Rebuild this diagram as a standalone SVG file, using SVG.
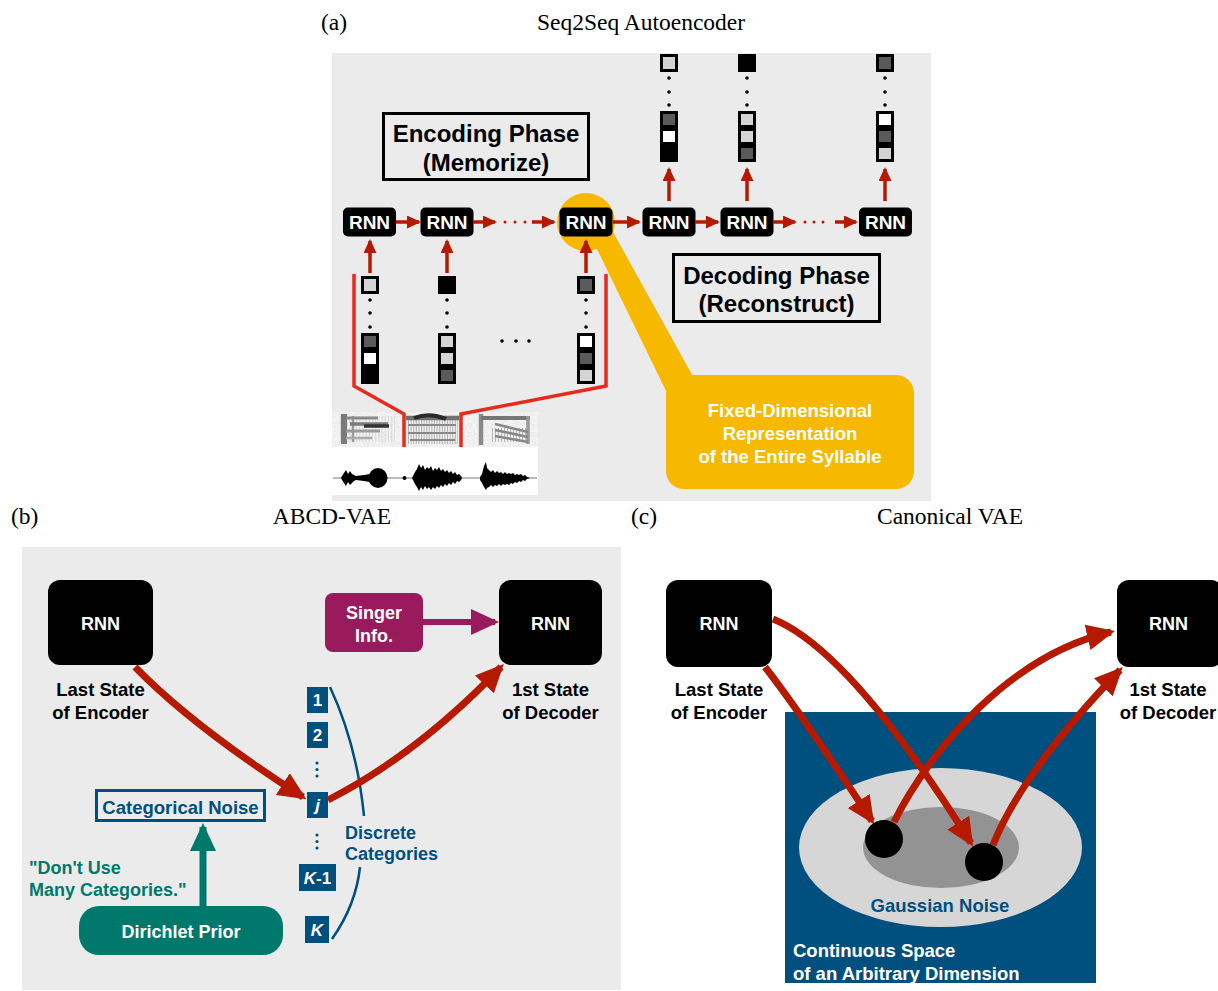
<svg xmlns="http://www.w3.org/2000/svg" width="1218" height="991" viewBox="0 0 1218 991">
<style>
.cap{font-family:"Liberation Serif","Times New Roman",serif;font-size:23.5px;fill:#000}
.t{font-family:"Liberation Sans",Arial,Helvetica,sans-serif;font-weight:bold}
.rnn{fill:#000}
.rl{fill:#fff;font-size:19px;text-anchor:middle}
.bl{fill:#fff;font-size:18px;text-anchor:middle}
.lbl{fill:#000;font-size:18.5px;text-anchor:middle}
.ph{fill:#000;font-size:24px;text-anchor:middle}
.box{fill:none;stroke:#000;stroke-width:3}
.c{stroke:#000;stroke-width:3}
.lg{fill:#d4d4d4}.dg{fill:#5a5a5a}.wh{fill:#fff}.bk{fill:#000}
.sm{stroke:#b51a00;stroke-width:3.5;fill:none;marker-end:url(#hSm)}
.big{stroke:#b51a00;stroke-width:7;fill:none;marker-end:url(#hRed)}
.br{stroke:#e8291c;stroke-width:3.5;fill:none}
.cat{fill:#00507f}
.ct{fill:#fff;font-size:17px;text-anchor:middle}
.blue{fill:#00507f}
.teal{fill:#00796c}
</style>
<defs>
<marker id="hSm" viewBox="0 0 14 13" markerWidth="14" markerHeight="13" refX="12" refY="6.5" orient="auto" markerUnits="userSpaceOnUse"><path d="M0,0L14,6.5L0,13z" fill="#b51a00"/></marker>
<marker id="hRed" viewBox="0 0 28 26" markerWidth="28" markerHeight="26" refX="24" refY="13" orient="auto" markerUnits="userSpaceOnUse"><path d="M0,0L28,13L0,26z" fill="#b51a00"/></marker>
<marker id="hPur" viewBox="0 0 28 26" markerWidth="28" markerHeight="26" refX="24" refY="13" orient="auto" markerUnits="userSpaceOnUse"><path d="M0,0L28,13L0,26z" fill="#9a1a5e"/></marker>
<marker id="hTeal" viewBox="0 0 28 26" markerWidth="28" markerHeight="26" refX="24" refY="13" orient="auto" markerUnits="userSpaceOnUse"><path d="M0,0L28,13L0,26z" fill="#00796c"/></marker>
<filter id="soft" filterUnits="userSpaceOnUse" x="332" y="412" width="206" height="35"><feGaussianBlur stdDeviation="0.7"/></filter>
<filter id="grain" filterUnits="userSpaceOnUse" x="332" y="412" width="206" height="35"><feTurbulence type="fractalNoise" baseFrequency="1.1" numOctaves="2" seed="4"/><feColorMatrix type="matrix" values="0 0 0 0 0.55  0 0 0 0 0.55  0 0 0 0 0.55  1.1 0 0 0 -0.5"/></filter>
</defs>
<rect width="1218" height="991" fill="#fff"/>

<g id="captions">
<text class="cap" x="321" y="30">(a)</text>
<text class="cap" x="641" y="30" text-anchor="middle">Seq2Seq Autoencoder</text>
<text class="cap" x="11" y="524">(b)</text>
<text class="cap" x="332" y="524" text-anchor="middle">ABCD-VAE</text>
<text class="cap" x="631" y="524">(c)</text>
<text class="cap" x="950" y="524" text-anchor="middle">Canonical VAE</text>
</g>

<rect x="332" y="53" width="599" height="448" fill="#ebebeb"/>
<rect x="22" y="547" width="599" height="443" fill="#ebebeb"/>

<!-- ===== Panel (a) ===== -->
<g id="enc-label">
<rect class="box" x="383.5" y="113.5" width="205" height="66"/>
<text class="t ph" x="486" y="141.5">Encoding Phase</text>
<text class="t ph" x="486" y="171">(Memorize)</text>
</g>
<g id="dec-label">
<rect class="box" x="673.5" y="254.5" width="206" height="67"/>
<text class="t ph" x="776.5" y="283.5">Decoding Phase</text>
<text class="t ph" x="776.5" y="312">(Reconstruct)</text>
</g>

<g id="callout">
<polygon points="596,247 613,232 695,380 668,395" fill="#f6b900"/>
<rect x="666" y="375" width="248" height="114" rx="18" fill="#f6b900"/>
<text class="t" font-size="18.5" fill="#fff" text-anchor="middle" x="790" y="416.5">Fixed-Dimensional</text>
<text class="t" font-size="18.5" fill="#fff" text-anchor="middle" x="790" y="439.5">Representation</text>
<text class="t" font-size="18.5" fill="#fff" text-anchor="middle" x="790" y="462.5">of the Entire Syllable</text>
</g>

<g id="enc1"><rect class="rnn" x="343" y="207.5" width="53" height="29" rx="5"/><text class="t rl" x="369.5" y="228.8">RNN</text></g>
<g id="enc2"><rect class="rnn" x="420.5" y="207.5" width="53" height="29" rx="5"/><text class="t rl" x="447" y="228.8">RNN</text></g>
<g id="enc3"><circle cx="586" cy="222" r="29" fill="#f6b900"/><rect class="rnn" x="559.5" y="207.5" width="53" height="29" rx="5"/><text class="t rl" x="586" y="228.8">RNN</text></g>
<g id="dec1"><rect class="rnn" x="642.5" y="207.5" width="53" height="29" rx="5"/><text class="t rl" x="669" y="228.8">RNN</text></g>
<g id="dec2"><rect class="rnn" x="720.5" y="207.5" width="53" height="29" rx="5"/><text class="t rl" x="747" y="228.8">RNN</text></g>
<g id="dec3"><rect class="rnn" x="859" y="207.5" width="53" height="29" rx="5"/><text class="t rl" x="885.5" y="228.8">RNN</text></g>

<g id="in1">
<rect class="c lg" x="362.5" y="277.5" width="15" height="15"/>
<circle cx="370" cy="300" r="1.8"/><circle cx="370" cy="313" r="1.8"/><circle cx="370" cy="327" r="1.8"/>
<rect class="c dg" x="362.5" y="334.5" width="15" height="14"/>
<rect class="c wh" x="362.5" y="351.5" width="15" height="14"/>
<rect class="c bk" x="362.5" y="368.5" width="15" height="14"/>
</g>
<g id="in2">
<rect class="c bk" x="439.5" y="277.5" width="15" height="15"/>
<circle cx="447" cy="300" r="1.8"/><circle cx="447" cy="313" r="1.8"/><circle cx="447" cy="327" r="1.8"/>
<rect class="c lg" x="439.5" y="334.5" width="15" height="14"/>
<rect class="c lg" x="439.5" y="351.5" width="15" height="14"/>
<rect class="c dg" x="439.5" y="368.5" width="15" height="14"/>
</g>
<g id="in-dots"><circle cx="502" cy="341" r="1.8"/><circle cx="516" cy="341" r="1.8"/><circle cx="529" cy="341" r="1.8"/></g>
<g id="in3">
<rect class="c dg" x="578.5" y="277.5" width="15" height="15"/>
<circle cx="586" cy="300" r="1.8"/><circle cx="586" cy="313" r="1.8"/><circle cx="586" cy="327" r="1.8"/>
<rect class="c wh" x="578.5" y="334.5" width="15" height="14"/>
<rect class="c dg" x="578.5" y="351.5" width="15" height="14"/>
<rect class="c lg" x="578.5" y="368.5" width="15" height="14"/>
</g>

<g id="out1">
<rect class="c lg" x="661.5" y="55.5" width="15" height="15"/>
<circle cx="669" cy="78" r="1.8"/><circle cx="669" cy="92" r="1.8"/><circle cx="669" cy="105" r="1.8"/>
<rect class="c dg" x="661.5" y="112.5" width="15" height="14"/>
<rect class="c wh" x="661.5" y="129.5" width="15" height="14"/>
<rect class="c bk" x="661.5" y="146.5" width="15" height="14"/>
</g>
<g id="out2">
<rect class="c bk" x="739.5" y="55.5" width="15" height="15"/>
<circle cx="747" cy="78" r="1.8"/><circle cx="747" cy="92" r="1.8"/><circle cx="747" cy="105" r="1.8"/>
<rect class="c lg" x="739.5" y="112.5" width="15" height="14"/>
<rect class="c lg" x="739.5" y="129.5" width="15" height="14"/>
<rect class="c dg" x="739.5" y="146.5" width="15" height="14"/>
</g>
<g id="out3">
<rect class="c dg" x="877.5" y="55.5" width="15" height="15"/>
<circle cx="885" cy="78" r="1.8"/><circle cx="885" cy="92" r="1.8"/><circle cx="885" cy="105" r="1.8"/>
<rect class="c wh" x="877.5" y="112.5" width="15" height="14"/>
<rect class="c dg" x="877.5" y="129.5" width="15" height="14"/>
<rect class="c lg" x="877.5" y="146.5" width="15" height="14"/>
</g>

<g id="audio">
<rect x="332" y="412" width="206" height="35" fill="#f4f4f4"/>
<rect x="332" y="412" width="206" height="35" filter="url(#grain)"/>
<g filter="url(#soft)" fill="none">
<path d="M340,429H395" stroke="#c0c0c0" stroke-width="26" stroke-dasharray="1 2.2" opacity="0.5"/>
<path d="M344,414V444" stroke="#7a7a7a" stroke-width="6"/>
<path d="M353,416V442" stroke="#999" stroke-width="2.5"/>
<path d="M346,418H378" stroke="#8a8a8a" stroke-width="3"/>
<path d="M350,424H388" stroke="#7a7a7a" stroke-width="3.5"/>
<path d="M364,426H389" stroke="#333" stroke-width="3.5"/>
<path d="M346,431H380" stroke="#999" stroke-width="3"/>
<path d="M346,438H372" stroke="#aaa" stroke-width="2.5"/>
<path d="M408,431H458" stroke="#999" stroke-width="26" stroke-dasharray="1 1.6" opacity="0.7"/>
<path d="M406,418H459" stroke="#707070" stroke-width="4.5"/>
<path d="M414,418Q430,412 446,419" stroke="#2a2a2a" stroke-width="4"/>
<path d="M408,425H456M408,433H456M410,440H455" stroke="#888" stroke-width="2"/>
<path d="M481,414V445" stroke="#8a8a8a" stroke-width="4.5"/>
<path d="M481,418H530" stroke="#777" stroke-width="4"/>
<path d="M528,416V444" stroke="#999" stroke-width="3.5"/>
<path d="M492,435H527" stroke="#a0a0a0" stroke-width="14" stroke-dasharray="1 2" opacity="0.7"/>
<path d="M495,424L528,432M495,430L528,437M495,436L528,442" stroke="#888" stroke-width="2.5"/>
</g>
<rect x="332" y="447" width="206" height="48" fill="#fff"/>
<path d="M333,478H537" stroke="#777" stroke-width="1"/>
<polygon points="341,478 342,476 344,473 346,470 348,474 350,471 352,474 354,475 356,476 360,475.5 364,475 370,474 370,482 364,481 360,480.5 356,480 354,481 352,483 350,485 348,482 346,486 344,483 342,480"/>
<ellipse cx="378" cy="478" rx="9.5" ry="10"/>
<circle cx="404.5" cy="478" r="2"/>
<polygon points="412,478 413,476 415,472 417,469 419,464 421,468 423,465 425,470 427,467 429,469 431,466 433,471 435,468 437,470 439,467 441,471 443,469 445,472 447,470 449,473 451,471 453,474 455,472 457,475 459,474 461,476 462,478 461,480 459,482 457,481 455,484 453,482 451,485 449,483 447,486 445,484 443,487 441,485 439,488 437,486 435,489 433,487 431,490 429,487 427,489 425,486 423,490 421,487 419,491 417,487 415,484 413,480"/>
<polygon points="480,477 482,474 484,466 486,462 487,468 489,470 491,472 493,470 495,473 497,471 499,473 501,472 503,474 505,472 507,474 509,473 511,474 513,473 515,475 517,474 519,475 521,474 523,476 525,475 527,477 530,478 527,479 525,481 523,480 521,482 519,481 517,483 515,482 513,484 511,483 509,485 507,484 505,485 503,484 501,486 499,484 497,486 495,485 493,487 491,485 489,487 487,488 486,490 484,487 482,483 480,480"/>
</g>

<!-- ===== Panel (b) ===== -->
<g id="b-enc"><rect class="rnn" x="48" y="580" width="105" height="85" rx="12"/><text class="t bl" x="100.5" y="629.5">RNN</text>
<text class="t lbl" x="100.5" y="695.5">Last State</text><text class="t lbl" x="100.5" y="718.5">of Encoder</text></g>
<g id="b-dec"><rect class="rnn" x="499" y="580" width="103" height="85" rx="12"/><text class="t bl" x="550.5" y="629.5">RNN</text>
<text class="t lbl" x="550.5" y="695.5">1st State</text><text class="t lbl" x="550.5" y="718.5">of Decoder</text></g>
<g id="singer"><rect x="325" y="593" width="98" height="59" rx="8" fill="#9a1a5e"/>
<text class="t bl" x="374" y="618.5">Singer</text><text class="t bl" x="374" y="641.5">Info.</text></g>
<g id="categories">
<rect class="cat" x="307" y="687" width="21" height="26"/><text class="t ct" x="317.5" y="705.5">1</text>
<rect class="cat" x="307" y="722" width="21" height="26"/><text class="t ct" x="317.5" y="740.5">2</text>
<circle class="blue" cx="317" cy="763" r="1.6"/><circle class="blue" cx="317" cy="769.5" r="1.6"/><circle class="blue" cx="317" cy="776" r="1.6"/>
<rect class="cat" x="307" y="792" width="21" height="26"/><text class="t ct" x="317.5" y="811" font-style="italic">j</text>
<circle class="blue" cx="317" cy="835" r="1.6"/><circle class="blue" cx="317" cy="841.5" r="1.6"/><circle class="blue" cx="317" cy="848" r="1.6"/>
<rect class="cat" x="299" y="864" width="37" height="27"/><text class="t ct" x="317.5" y="883.5"><tspan font-style="italic">K</tspan>-1</text>
<rect class="cat" x="305" y="916" width="24" height="27"/><text class="t ct" x="317" y="935.5" font-style="italic">K</text>
<path d="M330,687Q357,745 364,816M360,867Q356,905 332,939" fill="none" stroke="#00507f" stroke-width="2.5"/>
<text class="t blue" font-size="18" x="345" y="838.5">Discrete</text>
<text class="t blue" font-size="18" x="345" y="860">Categories</text>
</g>
<g id="cat-noise"><rect x="96.5" y="790.5" width="168" height="30" fill="none" stroke="#00507f" stroke-width="3"/>
<text class="t blue" font-size="18.5" text-anchor="middle" x="180.5" y="813.5">Categorical Noise</text></g>
<g id="dirichlet"><rect x="79" y="906" width="204" height="49" rx="20" fill="#00796c"/>
<text class="t bl" font-size="18.5" x="181" y="937.5">Dirichlet Prior</text>
<text class="t teal" font-size="18" x="29" y="873.5">"Don't Use</text>
<text class="t teal" font-size="18" x="29" y="896">Many Categories."</text></g>

<!-- ===== Panel (c) ===== -->
<g id="space"><rect x="785" y="712" width="311" height="271" fill="#00507f"/>
<text class="t" fill="#fff" font-size="18.5" x="793" y="956.5">Continuous Space</text>
<text class="t" fill="#fff" font-size="18.5" x="793" y="979.5">of an Arbitrary Dimension</text></g>
<g id="gauss"><ellipse cx="940.5" cy="847.5" rx="141.5" ry="79.5" fill="#d6d6d6"/>
<ellipse cx="941" cy="847.5" rx="78" ry="40.5" fill="#939393"/>
<text class="t blue" font-size="18.5" text-anchor="middle" x="940" y="911.5">Gaussian Noise</text></g>
<g id="c-enc"><rect class="rnn" x="666" y="580" width="106" height="87" rx="12"/><text class="t bl" x="719" y="629.5">RNN</text>
<text class="t lbl" x="719" y="695.5">Last State</text><text class="t lbl" x="719" y="718.5">of Encoder</text></g>
<g id="c-dec"><rect class="rnn" x="1117" y="580" width="106" height="87" rx="12"/><text class="t bl" x="1168.5" y="629.5">RNN</text>
<text class="t lbl" x="1168" y="695.5">1st State</text><text class="t lbl" x="1168" y="718.5">of Decoder</text></g>

<g id="connectors">
<path class="sm" d="M396,222H419"/>
<path class="sm" d="M473,222H495"/>
<path class="sm" d="M532,222H554"/>
<path class="sm" d="M613,222H639"/>
<path class="sm" d="M695,222H718"/>
<path class="sm" d="M773,222H795"/>
<path class="sm" d="M835,222H856"/>
<g fill="#b51a00"><circle cx="505" cy="222" r="1.5"/><circle cx="515" cy="222" r="1.5"/><circle cx="525" cy="222" r="1.5"/><circle cx="805" cy="222" r="1.5"/><circle cx="814" cy="222" r="1.5"/><circle cx="823" cy="222" r="1.5"/></g>
<path class="sm" d="M370,273V241"/>
<path class="sm" d="M447,273V241"/>
<path class="sm" d="M586,273V241"/>
<path class="sm" d="M669,201V169"/>
<path class="sm" d="M747,201V169"/>
<path class="sm" d="M885,201V169"/>
<path class="br" d="M354,274V386L404,414V447"/>
<path class="br" d="M606,274V386L461,414V447"/>
<path class="big" d="M135,667Q193.5,727 303,797"/>
<path class="big" d="M328,800Q418,754 501,667"/>
<path d="M423,622H495" stroke="#9a1a5e" stroke-width="6" fill="none" marker-end="url(#hPur)"/>
<path d="M203,906V827" stroke="#00796c" stroke-width="7" fill="none" marker-end="url(#hTeal)"/>
<path class="big" d="M765,667Q800.5,712.5 872,821"/>
<path class="big" d="M773,619Q850,650 971,843"/>
<path class="big" d="M894,822C930,750 1010,655 1111,632"/>
<path class="big" d="M993,845Q1022,772 1120,670"/>
</g>
<g id="points"><circle cx="884" cy="839" r="19"/><circle cx="984" cy="862" r="19"/></g>
</svg>
